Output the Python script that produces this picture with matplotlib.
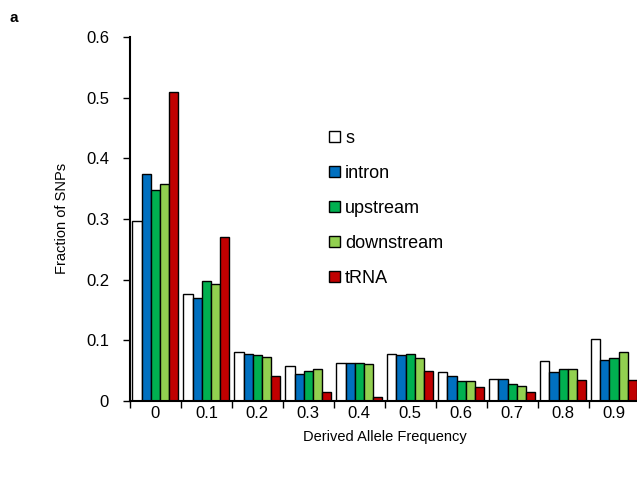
import matplotlib.pyplot as plt
import numpy as np

plt.rcParams['font.family'] = ['Liberation Sans', 'DejaVu Sans']

# Derived allele frequency bins
kategorier = ['0', '0.1', '0.2', '0.3', '0.4', '0.5', '0.6', '0.7', '0.8', '0.9']
serier = ['s', 'intron', 'upstream', 'downstream', 'tRNA']
farger = ['#FFFFFF', '#0070C0', '#00B050', '#92D050', '#C00000']

s_verdier = [0.296, 0.176, 0.080, 0.057, 0.062, 0.078, 0.047, 0.036, 0.065, 0.102]
intron_verdier = [0.374, 0.170, 0.078, 0.044, 0.062, 0.075, 0.041, 0.036, 0.047, 0.068]
upstream_verdier = [0.348, 0.197, 0.076, 0.049, 0.062, 0.078, 0.033, 0.028, 0.052, 0.070]
downstream_verdier = [0.358, 0.192, 0.072, 0.052, 0.060, 0.070, 0.033, 0.025, 0.052, 0.081]
trna_verdier = [0.510, 0.270, 0.041, 0.015, 0.007, 0.049, 0.022, 0.015, 0.034, 0.034]

alle = [s_verdier, intron_verdier, upstream_verdier, downstream_verdier, trna_verdier]

fig = plt.figure(figsize=(6.37, 4.8), dpi=100)
ax = fig.add_axes([0.204, 0.165, 0.80, 0.758])

x = np.arange(len(kategorier))
b = 0.18  # bar width
for i, (verdier, navn, farge) in enumerate(zip(alle, serier, farger)):
    ax.bar(x + (i - 2) * b, verdier, b, color=farge, edgecolor='black',
           linewidth=1.0, label=navn)

ax.set_xlim(-0.5, len(kategorier) - 0.5)
ax.set_ylim(0, 0.6)
ax.set_yticks(np.arange(0, 0.61, 0.1))
ax.set_yticklabels(['0', '0.1', '0.2', '0.3', '0.4', '0.5', '0.6'])
ax.set_xticks(x)
ax.set_xticklabels(kategorier)
ax.set_xticks(np.arange(-0.5, len(kategorier), 1), minor=True)
ax.tick_params(axis='x', which='major', length=0, labelsize=12, pad=4)
ax.tick_params(axis='x', which='minor', length=5, width=1, direction='out')
ax.tick_params(axis='y', length=5, width=1, direction='out', labelsize=12, pad=10)

ax.spines['top'].set_visible(False)
ax.spines['right'].set_visible(False)
ax.spines['left'].set_linewidth(1.5)
ax.spines['bottom'].set_linewidth(1.5)

ax.set_xlabel('Derived Allele Frequency', fontsize=10.5, labelpad=6)
ax.set_ylabel('Fraction of SNPs', fontsize=10.5, labelpad=12)

ax.legend(loc='upper left', bbox_to_anchor=(0.376, 0.765), frameon=False,
          fontsize=13, handlelength=0.6, handleheight=0.6, handletextpad=0.3,
          labelspacing=1.0, borderaxespad=0)

fig.text(0.015, 0.955, 'a', fontsize=11, fontweight='bold')

fig.savefig('out.png', dpi=100)
